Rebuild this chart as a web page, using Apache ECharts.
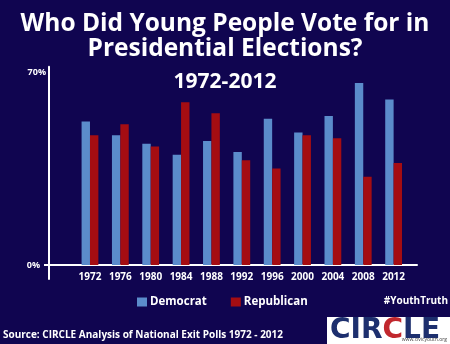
<!DOCTYPE html>
<html><head><meta charset="utf-8">
<script src="https://cdn.jsdelivr.net/npm/echarts@6/dist/echarts.min.js"></script>
<style>html,body{margin:0;padding:0;background:#100550;}#c{width:450px;height:344px;}</style>
</head><body><div id="c"></div>
<script>
const years = ['1972','1976','1980','1984','1988','1992','1996','2000','2004','2008','2012'];
const democrat = [52, 47, 44, 40, 45, 41, 53, 48, 54, 66, 60];
const republican = [47, 51, 43, 59, 55, 38, 35, 47, 46, 32, 37];
const yTicks = [0, 70];
const seriesNames = ['Democrat', 'Republican'];

const FONT = '"Open Sans", sans-serif';
const W = '#ffffff';
const yMin = -5.1, yMax = 71.9;

const chart = echarts.init(document.getElementById('c'), null, {renderer: 'canvas'});
chart.setOption({
  backgroundColor: '#100550',
  animation: false,
  title: [
    {text: 'Who Did Young People Vote for in\nPresidential Elections?', left: 'center', top: 12, padding: 0,
     textStyle: {color: W, fontFamily: FONT, fontWeight: 'bold', fontSize: 24.5, lineHeight: 25}},
    {text: '1972-2012', left: 'center', top: 71, padding: 0,
     textStyle: {color: W, fontFamily: FONT, fontWeight: 'bold', fontSize: 21, lineHeight: 22}},
    {text: 'Source: CIRCLE Analysis of National Exit Polls 1972 - 2012', left: 3, top: 328, padding: 0,
     textStyle: {color: W, fontFamily: FONT, fontWeight: 'bold', fontSize: 10, lineHeight: 14}},
    {text: '#YouthTruth', right: 2, top: 294, padding: 0,
     textStyle: {color: W, fontFamily: FONT, fontWeight: 'bold', fontSize: 10, lineHeight: 14}}
  ],
  legend: {
    data: seriesNames, left: 137, top: 296, padding: 0, itemWidth: 10, itemHeight: 9, itemGap: 24,
    icon: 'rect',
    textStyle: {color: W, fontFamily: FONT, fontWeight: 'bold', fontSize: 11.5, padding: [0,0,0,-2]}
  },
  grid: [
    {left: 49, right: 33, top: 66.7, bottom: 65},
    {left: 74.8, right: 41.2, top: 66.7, bottom: 79}
  ],
  xAxis: [
    {gridIndex: 0, type: 'value', min: 0, max: 1,
     axisLine: {show: true, onZero: true, lineStyle: {color: W, width: 2}},
     axisTick: {show: false}, axisLabel: {show: false}, splitLine: {show: false}},
    {gridIndex: 1, type: 'category', data: years,
     axisLine: {show: false}, axisTick: {show: false}, splitLine: {show: false},
     axisLabel: {color: W, fontFamily: FONT, fontWeight: 'bold', fontSize: 10, margin: 7, interval: 0}}
  ],
  yAxis: [
    {gridIndex: 0, type: 'value', min: yMin, max: yMax,
     axisLine: {show: true, lineStyle: {color: W, width: 2}},
     axisTick: {show: true, customValues: [0], length: 5, lineStyle: {color: W, width: 2}},
     splitLine: {show: false},
     axisLabel: {customValues: yTicks, margin: 3, fontFamily: FONT, fontWeight: 'bold', fontSize: 9, color: W,
       formatter: v => v === 0 ? '{z|' + v + '%}' : '{n|' + v + '%}',
       rich: {z: {color: W, fontFamily: FONT, fontWeight: 'bold', fontSize: 9, padding: [0, 6, 0, 0]},
              n: {color: W, fontFamily: FONT, fontWeight: 'bold', fontSize: 9}}}},
    {gridIndex: 1, type: 'value', min: 0, max: yMax, show: false, splitLine: {show: false}}
  ],
  series: [
    {name: seriesNames[0], type: 'bar', xAxisIndex: 1, yAxisIndex: 1, data: democrat,
     barWidth: 8.4, barGap: '0%', itemStyle: {color: '#5b8ccb'}},
    {name: seriesNames[1], type: 'bar', xAxisIndex: 1, yAxisIndex: 1, data: republican,
     barWidth: 8.4, barGap: '0%', itemStyle: {color: '#a50d12'}}
  ],
  graphic: [
    {type: 'rect', left: 327, top: 317, shape: {width: 123, height: 27}, style: {fill: '#ffffff'}},
    {type: 'text', left: 330, top: 317,
     style: {text: '{b|CIR}{r|C}{b|LE}', rich: {
       b: {fill: '#1d2f6e', fontFamily: '"DejaVu Sans", sans-serif', fontWeight: 'bold', fontSize: 28, lineHeight: 25},
       r: {fill: '#c1272d', fontFamily: '"DejaVu Sans", sans-serif', fontWeight: 'bold', fontSize: 28, lineHeight: 25}}}},
    {type: 'text', right: 3, top: 337,
     style: {text: 'www.civicyouth.org', fill: '#444', fontFamily: FONT, fontSize: 5}}
  ]
});
</script></body></html>
